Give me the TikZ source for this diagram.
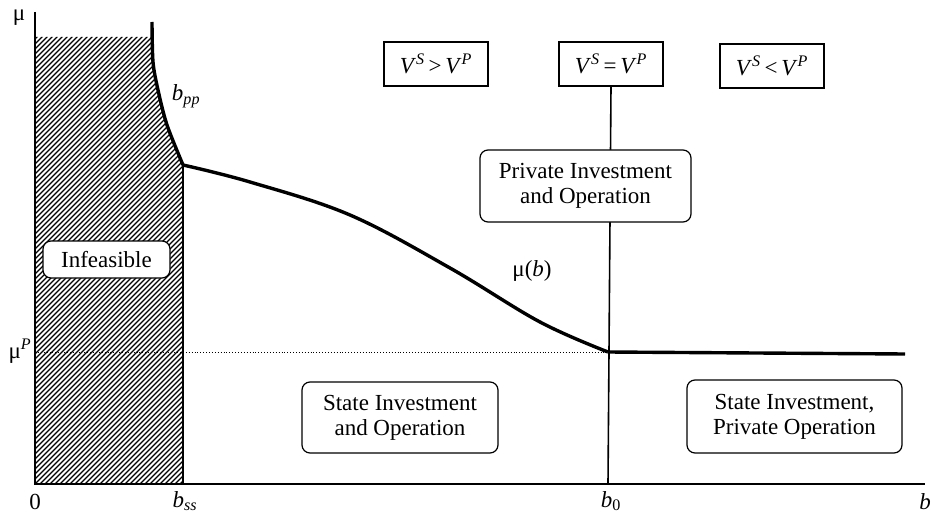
\documentclass[tikz,border=0pt]{standalone}
\usepackage{fontspec}
\setmainfont{Liberation Serif}
\begin{document}
\begin{tikzpicture}[x=1pt,y=-1pt,
  lbl/.style={font=\fontsize{23}{26}\selectfont, inner sep=0pt},
  vbox/.style={draw, line width=1.2pt, minimum width=104pt, minimum height=44pt, inner sep=0pt, fill=white, font=\fontsize{23}{26}\selectfont},
  rbox/.style={draw, line width=1.2pt, rounded corners=8pt, fill=white, align=center, inner sep=0pt, font=\fontsize{23}{25}\selectfont},
  thickcurve/.style={line width=3.4pt},
  axis/.style={line width=1.6pt}]
\useasboundingbox (0,0) rectangle (932,516);
% coordinates
\coordinate (O) at (35,484);
\coordinate (ytop) at (35,12);
\coordinate (xend) at (925,484);
\coordinate (bss) at (183,484);
\coordinate (kink) at (183,165);
\coordinate (bppTop) at (152,22);
\coordinate (b0) at (608,484);
\coordinate (mub) at (608,352);
\coordinate (muend) at (905,354);
\coordinate (muP) at (35,352);
% hatched region
\begin{scope}
\clip (35,37) -- (151,37) -- plot[smooth] coordinates {(151,37) (153,62) (158,90) (167,125) (183,165)} -- (183,484) -- (35,484) -- cycle;
\foreach \i in {-500,-495,...,200} \draw[line width=1.2pt] (\i,484) -- ++(480,-480);
\end{scope}
% axes
\draw[axis] (ytop) -- (O) -- (xend);
\draw[line width=1.7pt] (kink) -- (bss);
% dotted mu^P
\draw[dotted, line width=0.9pt] (muP) -- (mub);
% b_pp curve
\draw[thickcurve] plot[smooth] coordinates {(bppTop) (153,62) (158,90) (167,125) (kink)};
% mu(b) curve
\draw[thickcurve] plot[smooth, tension=0.6] coordinates {(kink) (250,182) (350,215) (450,268) (540,322) (mub)};
\draw[thickcurve] (mub) -- (muend);
% boxes
\node[vbox] (vgt) at (436,64) {\textit{V}\textsuperscript{\textit{S}}\,>\,\textit{V}\textsuperscript{\textit{P}}};
\node[vbox] (veq) at (611,64) {\textit{V}\textsuperscript{\textit{S}}\,=\,\textit{V}\textsuperscript{\textit{P}}};
\node[vbox] (vlt) at (772,66) {\textit{V}\textsuperscript{\textit{S}}\,<\,\textit{V}\textsuperscript{\textit{P}}};
\draw[line width=1.6pt] (veq.south) -- (b0);
\node[rbox, minimum width=211pt, minimum height=72pt] (pio) at (585.5,186) {Private Investment\\and Operation};
\node[rbox, minimum width=127pt, minimum height=37pt] (inf) at (106.5,259.5) {Infeasible};
\node[rbox, minimum width=196pt, minimum height=71pt] (sio) at (400,417.5) {State Investment\\and Operation};
\node[rbox, minimum width=215pt, minimum height=73pt] (sipo) at (794.5,416.5) {State Investment,\\Private Operation};
% labels
\node[lbl] (lmu) at (19,18) {μ};
\node[lbl] (lbpp) at (186,96) {\textit{b}\textsubscript{\textit{pp}}};
\node[lbl] (lmub) at (532,271) {μ(\textit{b})};
\node[lbl] (lmuP) at (20,351) {μ\textsuperscript{\textit{P}}};
\node[lbl] (l0) at (35,502) {0};
\node[lbl] (lbss) at (185,501) {\textit{b}\textsubscript{\textit{ss}}};
\node[lbl] (lb0) at (611,501) {\textit{b}\textsubscript{0}};
\node[lbl, anchor=east] (lb) at (931,502) {\textit{b}};
\end{tikzpicture}
\end{document}
